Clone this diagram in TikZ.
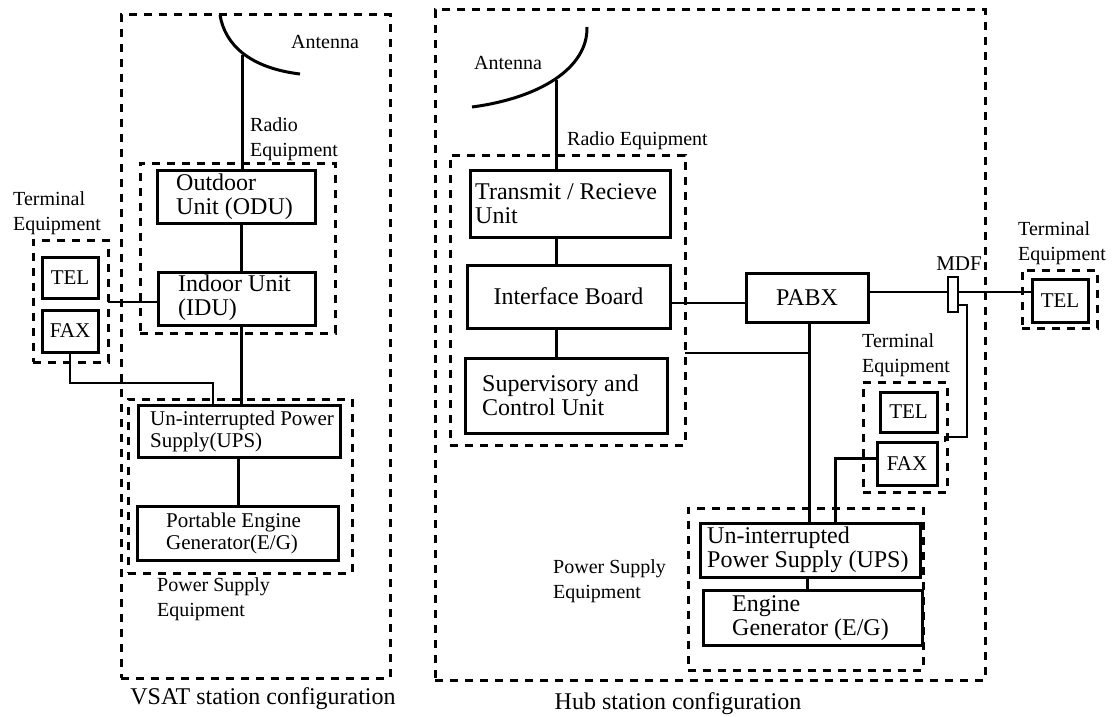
\documentclass[tikz,border=0pt]{standalone}
\usepackage{fontspec}
\setmainfont{Liberation Serif}
\usetikzlibrary{fit}
\begin{document}
\begin{tikzpicture}[x=1pt,y=-1pt,
  solidbox/.style={draw, line width=3pt, inner sep=0pt, outer sep=0pt},
  dashbox/.style={draw, line width=3pt, dash pattern=on 8pt off 7pt, inner sep=0pt, outer sep=0pt},
  wire/.style={line width=3pt},
  thinwire/.style={line width=2.2pt},
  btxt/.style={anchor=west, inner sep=0pt, align=left, font=\fontsize{24}{24}\selectfont},
  stxt/.style={anchor=west, inner sep=0pt, align=left, font=\fontsize{21}{22}\selectfont},
  ctxt/.style={inner sep=0pt, font=\fontsize{21}{22}\selectfont},
  lbl/.style={anchor=west, inner sep=0pt, align=left, font=\fontsize{20}{25}\selectfont},
  captxt/.style={inner sep=0pt, font=\fontsize{24}{28}\selectfont},
]
\useasboundingbox (0,0) rectangle (1112,717);

% ================= VSAT =================
\node[dashbox, fit={(121,15) (390,678)}] (vsat) {};
\coordinate (vant) at (242,55);
\draw[wire] (220,15) .. controls (225,45) and (250,68) .. (300,74);
\node[lbl, anchor=center] (vantl) at (325,42) {Antenna};
\node[lbl] (vradl) at (250,139) {Radio\\Equipment};
\node[dashbox, fit={(140,163) (335,333)}] (vradio) {};
\node[solidbox, fit={(157,170) (315,223)}] (odu) {};
\node[btxt] (odut) at (176,197) {Outdoor\\Unit (ODU)};
\node[solidbox, fit={(158,272) (315,325)}] (idu) {};
\node[btxt] (idut) at (178,298) {Indoor Unit\\(IDU)};

\node[lbl] (vterml) at (13,213) {Terminal\\Equipment};
\node[dashbox, fit={(33,240) (108,362)}] (vterm) {};
\node[solidbox, fit={(42,257) (98,298)}] (vtel) {};
\node[ctxt] (vtelt) at (vtel) {TEL};
\node[solidbox, fit={(42,310) (98,352)}] (vfax) {};
\node[ctxt] (vfaxt) at (vfax) {FAX};

\node[dashbox, fit={(128,399) (352,573)}] (vpow) {};
\node[solidbox, fit={(138,405) (340,457)}] (vups) {};
\node[stxt] (vupst) at (150,431) {Un-interrupted Power\\Supply(UPS)};
\node[solidbox, fit={(137,506) (338,560)}] (veg) {};
\node[stxt] (vegt) at (166,533) {Portable Engine\\Generator(E/G)};
\node[lbl] (vpowl) at (157,599) {Power Supply\\Equipment};
\node[captxt] (vcap) at (263,699) {VSAT station configuration};

\coordinate (vcol) at (241,0);
\coordinate (vfx) at (213,383);
\draw[wire] (vant) -- (vant |- odu.north);
\draw[wire] (odu.south -| vcol) -- (idu.north -| vcol);
\draw[wire] (idu.south -| vcol) -- (vups.north -| vcol);
\draw[wire] (vups.south -| 238,0) -- (veg.north -| 238,0);
\draw[thinwire] (idu.west |- 0,302) -- (vterm.east |- 0,302);
\draw[thinwire] (vfax.south) |- (vfx) -- (vfx |- vups.north);

% ================= HUB =================
\node[dashbox, fit={(435,10) (985,680)}] (hub) {};
\coordinate (hant) at (556,80);
\draw[wire] (587,27) .. controls (588,68) and (540,98) .. (472,107);
\node[lbl, anchor=center] (hantl) at (508,63) {Antenna};
\node[lbl] (hradl) at (567,141) {Radio Equipment};
\node[dashbox, fit={(450,155) (685,445)}] (hradio) {};
\node[solidbox, fit={(470,170) (670,237)}] (htr) {};
\node[btxt] (htrt) at (475,204) {Transmit / Recieve\\Unit};
\node[solidbox, fit={(467,265) (670,328)}] (hib) {};
\node[btxt, anchor=center] (hibt) at (hib) {Interface Board};
\node[solidbox, fit={(465,358) (667,433)}] (hsc) {};
\node[btxt] (hsct) at (482,395) {Supervisory and\\Control Unit};
\node[solidbox, fit={(746,273) (868,322)}] (hpabx) {};
\node[btxt, anchor=center] (hpabxt) at (hpabx) {PABX};

\node[solidbox, line width=2.2pt, fit={(948,277) (958,312)}] (hmdf) {};
\node[ctxt] (hmdfl) at (959,264) {MDF};

\node[lbl] (rterml) at (1018,243) {Terminal\\Equipment};
\node[dashbox, fit={(1022,270) (1097,328)}] (rterm) {};
\node[solidbox, fit={(1032,279) (1088,322)}] (rtel) {};
\node[ctxt] (rtelt) at (rtel) {TEL};

\node[lbl] (mterml) at (862,355) {Terminal\\Equipment};
\node[dashbox, fit={(863,382) (947,492)}] (mterm) {};
\node[solidbox, fit={(880,392) (937,432)}] (mtel) {};
\node[ctxt] (mtelt) at (mtel) {TEL};
\node[solidbox, fit={(877,442) (937,485)}] (mfax) {};
\node[ctxt] (mfaxt) at (mfax) {FAX};

\node[dashbox, fit={(688,508) (923,670)}] (hpow) {};
\node[solidbox, fit={(700,523) (920,577)}] (hups) {};
\node[btxt] (hupst) at (707,550) {Un-interrupted\\Power Supply (UPS)};
\node[solidbox, fit={(703,590) (922,645)}] (heg) {};
\node[btxt] (hegt) at (732,618) {Engine\\Generator (E/G)};
\node[lbl] (hpowl) at (553,581) {Power Supply\\Equipment};
\node[captxt] (hcap) at (678,704) {Hub station configuration};

\coordinate (hcol) at (556,0);
\coordinate (pcol) at (809,0);
\coordinate (hj) at (809,353);
\coordinate (fx) at (835,458);
\coordinate (mdfa) at (967,305);
\coordinate (mdfb) at (967,437);
\coordinate (mdfc) at (945,437);
\draw[wire] (hant) -- (hant |- htr.north);
\draw[wire] (htr.south -| hcol) -- (hib.north -| hcol);
\draw[wire] (hib.south -| hcol) -- (hsc.north -| hcol);
\draw[thinwire] (hib.east |- 0,303) -- (hpabx.west |- 0,303);
\draw[wire] (hpabx.south -| pcol) -- (hups.north -| pcol);
\draw[thinwire] (hj) -- (hj -| hradio.east);
\draw[thinwire] (hpabx.east |- 0,292) -- (hmdf.west |- 0,292);
\draw[thinwire] (hmdf.east |- 0,292) -- (rtel.west |- 0,292);
\draw[thinwire] (hmdf.east |- mdfa) -- (mdfa) -- (mdfb) -- (mdfc) -- (mdfc |- mfax.north);
\draw[wire] (mfax.west |- fx) -- (fx) -- (fx |- hups.north);
\draw[wire] (hups.south -| 807,0) -- (heg.north -| 807,0);
\end{tikzpicture}
\end{document}
